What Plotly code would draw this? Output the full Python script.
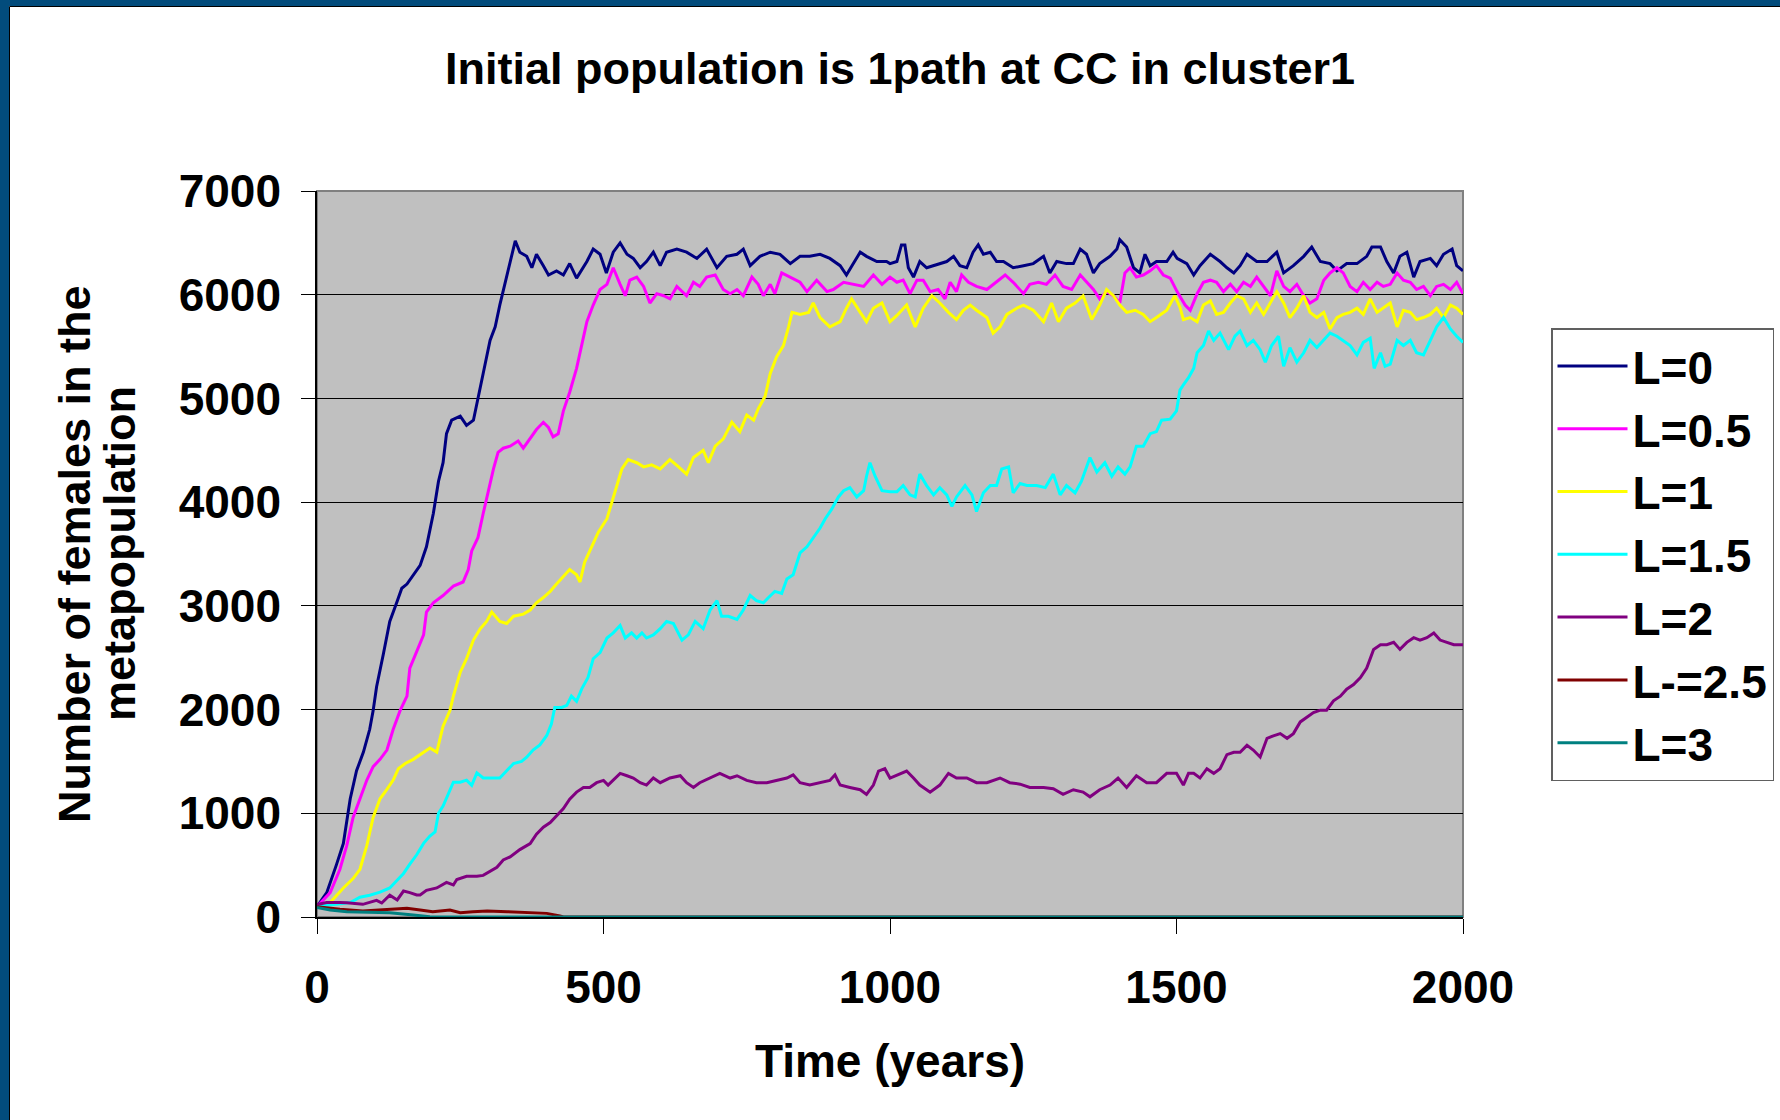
import plotly.graph_objects as go

# ---------------- data (year, females) ----------------
SERIES_NAMES = ["L=0", "L=0.5", "L=1", "L=1.5", "L=2", "L-=2.5", "L=3"]
SERIES_COLORS = ["#000080", "#FF00FF", "#FFFF00", "#00FFFF", "#800080", "#800000", "#008080"]

L0 = [(0,100),(17,235),(34,505),(46,710),(58,1140),(69,1410),(81,1590),(92,1810),(98,1990),(104,2220),
      (116,2540),(127,2850),(139,3030),(148,3170),(157,3210),(168,3300),(180,3390),(191,3570),(203,3890),
      (212,4200),(220,4380),(226,4660),(235,4790),(250,4830),(261,4740),(273,4790),(281,4990),(290,5240),
      (302,5560),(311,5690),(319,5900),(328,6100),(337,6320),(343,6460),(346,6520),(354,6410),(366,6370),
      (375,6260),(383,6390),(395,6280),(404,6190),(418,6230),(430,6190),(441,6300),(453,6160),(471,6320),
      (482,6440),(494,6390),(505,6210),(517,6410),(529,6500),(541,6390),(552,6350),(564,6260),(575,6320),
      (587,6410),(599,6280),(610,6410),(628,6440),(645,6410),(663,6350),(680,6440),(698,6260),(715,6370),
      (733,6390),(744,6440),(756,6280),(773,6370),(791,6410),(808,6390),(826,6300),(843,6370),(860,6370),
      (878,6390),(895,6350),(913,6280),(924,6190),(936,6300),(948,6410),(959,6370),(977,6320),(994,6320),
      (1000,6300),(1012,6320),(1020,6480),(1026,6480),(1032,6260),(1041,6170),(1052,6320),(1064,6260),
      (1076,6280),(1087,6300),(1099,6320),(1111,6370),(1122,6280),(1134,6260),(1145,6410),(1154,6480),
      (1163,6390),(1175,6410),(1186,6320),(1198,6320),(1215,6260),(1233,6280),(1250,6300),(1268,6370),
      (1279,6210),(1291,6320),(1308,6300),(1320,6300),(1332,6440),(1343,6390),(1355,6210),(1366,6300),
      (1384,6370),(1396,6440),(1401,6530),(1413,6460),(1425,6260),(1436,6210),(1445,6390),(1454,6280),
      (1465,6320),(1483,6320),(1494,6410),(1501,6350),(1518,6300),(1530,6190),(1541,6280),(1559,6390),
      (1576,6320),(1588,6260),(1600,6210),(1611,6280),(1623,6390),(1640,6320),(1658,6320),(1675,6410),
      (1687,6210),(1704,6280),(1722,6370),(1736,6460),(1751,6320),(1768,6300),(1780,6230),(1797,6300),
      (1815,6300),(1832,6370),(1841,6460),(1856,6460),(1867,6320),(1879,6210),(1890,6370),(1902,6410),
      (1914,6170),(1925,6320),(1943,6350),(1954,6280),(1966,6390),(1981,6440),(1989,6280),(2000,6230)]

L05 = [(0,100),(23,235),(40,460),(52,690),(63,960),(75,1140),(87,1320),(98,1450),(110,1520),(122,1610),
       (133,1810),(145,1990),(157,2130),(162,2400),(174,2560),(186,2720),(191,2940),(203,3030),(220,3100),
       (238,3190),(255,3230),(264,3350),(270,3530),(281,3660),(290,3890),(299,4110),(308,4320),(316,4480),
       (325,4520),(337,4540),(351,4590),(360,4520),(372,4610),(383,4700),(395,4770),(404,4720),(412,4630),
       (421,4660),(430,4880),(441,5060),(453,5290),(462,5510),(471,5740),(482,5900),(494,6050),(506,6100),
       (517,6260),(529,6100),(538,5990),(546,6140),(558,6170),(570,6080),(581,5920),(593,6010),(605,5990),
       (616,5960),(628,6080),(645,5990),(657,6120),(668,6080),(680,6170),(695,6190),(709,6050),(721,6010),
       (733,6050),(744,5990),(759,6170),(770,6100),(779,5990),(791,6100),(799,6010),(811,6210),(826,6170),
       (843,6120),(855,6030),(872,6140),(890,6030),(901,6050),(919,6120),(936,6100),(954,6080),(971,6190),
       (986,6100),(1000,6170),(1012,6120),(1023,6140),(1035,6010),(1047,6140),(1058,6140),(1070,6030),
       (1084,6050),(1096,5960),(1105,6120),(1116,6030),(1125,6190),(1137,6120),(1151,6080),(1169,6050),
       (1186,6120),(1201,6190),(1215,6120),(1233,6010),(1244,6100),(1259,6120),(1273,6100),(1288,6190),
       (1302,6080),(1317,6050),(1332,6190),(1343,6120),(1355,6050),(1366,5960),(1378,6030),(1390,5990),
       (1401,5920),(1410,6210),(1419,6260),(1430,6170),(1442,6190),(1454,6230),(1465,6280),(1477,6190),
       (1489,6160),(1501,6030),(1515,5900),(1524,5850),(1536,6010),(1547,6120),(1559,6140),(1570,6120),
       (1582,6030),(1594,6100),(1605,6030),(1617,6120),(1629,6080),(1640,6170),(1652,6080),(1664,5990),
       (1675,6230),(1687,6080),(1698,6030),(1710,6100),(1722,5990),(1733,5920),(1745,5960),(1757,6140),
       (1768,6210),(1780,6260),(1791,6210),(1803,6080),(1815,6030),(1826,6120),(1838,6050),(1850,6120),
       (1861,6080),(1873,6100),(1885,6210),(1896,6140),(1908,6120),(1919,6050),(1931,6080),(1943,5990),
       (1954,6080),(1966,6100),(1978,6050),(1989,6120),(2000,6010)]

L1 = [(0,100),(23,140),(46,280),(63,370),(75,460),(87,690),(98,960),(110,1140),(122,1230),(133,1320),
      (142,1430),(154,1480),(168,1520),(186,1590),(197,1630),(209,1590),(220,1840),(232,1990),(238,2130),
      (250,2360),(261,2490),(273,2670),(285,2780),(296,2850),(305,2940),(319,2850),(331,2830),(343,2900),
      (360,2920),(372,2960),(383,3030),(395,3080),(407,3140),(418,3210),(430,3280),(441,3350),(453,3300),
      (459,3230),(467,3420),(479,3570),(491,3710),(506,3840),(520,4110),(532,4320),(543,4410),(558,4380),
      (570,4340),(584,4360),(599,4320),(616,4410),(631,4340),(645,4270),(657,4430),(674,4500),(683,4380),
      (695,4540),(709,4610),(724,4770),(738,4680),(750,4840),(762,4790),(770,4900),(782,5020),(791,5240),
      (802,5400),(814,5510),(823,5690),(829,5830),(843,5810),(858,5830),(866,5920),(878,5780),(895,5690),
      (913,5740),(924,5870),(933,5960),(948,5830),(959,5740),(971,5870),(986,5920),(1000,5740),(1012,5800),
      (1029,5900),(1044,5690),(1058,5870),(1073,5990),(1087,5920),(1102,5830),(1116,5760),(1128,5850),
      (1140,5900),(1151,5850),(1169,5780),(1180,5630),(1192,5690),(1204,5810),(1221,5870),(1233,5900),
      (1250,5850),(1268,5740),(1282,5920),(1294,5740),(1308,5870),(1323,5920),(1337,5990),(1352,5760),
      (1366,5900),(1378,6050),(1390,5990),(1401,5900),(1413,5830),(1428,5850),(1442,5810),(1454,5740),
      (1465,5780),(1483,5850),(1497,5990),(1506,5880),(1512,5760),(1524,5780),(1536,5740),(1547,5900),
      (1559,5940),(1570,5810),(1582,5830),(1594,5920),(1605,5990),(1617,5960),(1629,5830),(1640,5920),
      (1652,5810),(1664,5920),(1675,6030),(1687,5920),(1698,5780),(1710,5870),(1722,5990),(1733,5830),
      (1745,5780),(1757,5830),(1768,5670),(1780,5780),(1791,5810),(1803,5830),(1815,5870),(1826,5810),
      (1838,5960),(1850,5830),(1861,5870),(1873,5920),(1885,5690),(1896,5850),(1908,5830),(1919,5760),
      (1931,5780),(1943,5810),(1954,5870),(1966,5780),(1978,5900),(1989,5870),(2000,5810)]

L15 = [(0,100),(34,120),(58,140),(75,190),(92,210),(110,240),(127,280),(139,350),(151,420),(162,510),
       (174,600),(186,710),(197,780),(206,820),(212,1000),(220,1070),(229,1180),(238,1300),(250,1300),
       (261,1320),(270,1270),(279,1390),(290,1340),(305,1340),(319,1340),(331,1410),(343,1480),(357,1500),
       (366,1540),(377,1610),(389,1660),(401,1750),(409,1860),(415,2020),(427,2020),(436,2040),(444,2130),
       (453,2080),(462,2200),(473,2310),(482,2490),(494,2550),(506,2690),(517,2740),(529,2810),(538,2690),
       (549,2740),(558,2690),(567,2740),(575,2690),(587,2720),(599,2780),(610,2850),(622,2830),(637,2670),
       (648,2720),(660,2850),(674,2780),(686,2960),(698,3050),(706,2900),(718,2900),(733,2870),(744,2960),
       (756,3100),(767,3050),(779,3030),(788,3080),(799,3140),(811,3120),(820,3260),(831,3300),(843,3510),
       (855,3570),(866,3660),(878,3750),(887,3840),(898,3930),(910,4050),(919,4110),(930,4140),(942,4050),
       (954,4110),(959,4250),(965,4380),(974,4250),(986,4110),(1000,4100),(1012,4100),(1023,4160),
       (1035,4070),(1044,4050),(1052,4270),(1064,4160),(1076,4070),(1087,4140),(1099,4070),(1108,3960),
       (1116,4050),(1131,4160),(1143,4070),(1151,3910),(1163,4090),(1175,4160),(1186,4160),(1195,4320),
       (1207,4340),(1215,4090),(1227,4180),(1239,4160),(1256,4160),(1271,4140),(1285,4270),(1297,4070),
       (1308,4160),(1323,4090),(1334,4200),(1349,4430),(1361,4290),(1375,4380),(1387,4250),(1398,4340),
       (1410,4270),(1419,4340),(1430,4540),(1442,4540),(1454,4660),(1465,4680),(1474,4790),(1489,4800),
       (1500,4880),(1506,5080),(1512,5130),(1521,5200),(1530,5290),(1536,5440),(1547,5510),(1556,5650),
       (1565,5560),(1576,5630),(1591,5470),(1602,5600),(1611,5650),(1623,5510),(1634,5560),(1646,5470),
       (1655,5350),(1666,5510),(1678,5600),(1687,5310),(1698,5490),(1710,5350),(1722,5440),(1733,5560),
       (1745,5490),(1757,5560),(1768,5630),(1780,5600),(1791,5560),(1803,5510),(1815,5420),(1826,5540),
       (1838,5580),(1845,5290),(1856,5440),(1864,5310),(1873,5330),(1885,5560),(1896,5510),(1908,5560),
       (1919,5440),(1931,5420),(1943,5560),(1954,5690),(1966,5780),(1978,5670),(1989,5600),(2000,5540)]

L2 = [(0,120),(17,140),(40,140),(52,138),(80,122),(104,160),(113,135),(127,210),(140,164),(151,250),
      (162,235),(174,212),(180,212),(191,257),(209,280),(226,334),(238,309),(244,361),(261,392),(279,392),
      (290,401),(302,438),(314,480),(325,550),(337,580),(354,650),(372,708),(383,798),(395,866),(407,911),
      (418,979),(430,1046),(441,1137),(453,1204),(465,1249),(476,1249),(488,1295),(500,1317),(508,1272),
      (517,1317),(529,1385),(541,1362),(552,1340),(564,1295),(575,1272),(587,1340),(599,1295),(616,1340),
      (634,1362),(645,1295),(657,1249),(668,1295),(686,1340),(703,1385),(721,1340),(733,1362),(750,1317),
      (767,1295),(785,1295),(802,1317),(820,1340),(831,1371),(843,1295),(860,1272),(878,1295),(895,1317),
      (904,1371),(913,1272),(930,1249),(948,1227),(959,1182),(971,1272),(980,1407),(991,1430),(1000,1340),
      (1012,1371),(1029,1407),(1041,1340),(1052,1272),(1070,1204),(1087,1272),(1102,1385),(1116,1340),
      (1134,1340),(1151,1295),(1169,1295),(1192,1340),(1209,1295),(1227,1281),(1244,1249),(1268,1249),
      (1285,1236),(1302,1182),(1320,1227),(1337,1204),(1349,1159),(1366,1227),(1384,1272),(1398,1340),
      (1413,1249),(1430,1362),(1448,1295),(1465,1295),(1483,1385),(1500,1385),(1512,1272),(1521,1385),
      (1530,1385),(1541,1340),(1553,1430),(1565,1385),(1576,1430),(1588,1565),(1600,1588),(1611,1588),
      (1623,1655),(1634,1610),(1646,1543),(1658,1723),(1669,1746),(1681,1768),(1693,1723),(1704,1768),
      (1716,1881),(1728,1926),(1739,1971),(1751,1994),(1762,1994),(1774,2084),(1786,2129),(1797,2197),
      (1809,2242),(1821,2309),(1832,2400),(1844,2580),(1856,2625),(1867,2625),(1879,2648),(1890,2580),
      (1902,2648),(1914,2693),(1925,2670),(1937,2693),(1949,2738),(1960,2670),(1972,2648),(1984,2625),
      (1995,2625),(2000,2625)]

L25 = [(0,100),(40,74),(80,58),(122,74),(157,84),(180,68),(202,51),(232,68),(250,42),(272,51),(297,58),
       (332,51),(366,45),(401,35),(424,10),(430,0),(2000,0)]

L3 = [(0,93),(23,68),(52,51),(87,45),(127,42),(168,19),(197,3),(227,0),(2000,0)]

ALL_SERIES = [L0, L05, L1, L15, L2, L25, L3]

X_TICKS = [0, 500, 1000, 1500, 2000]
Y_TICKS = [0, 1000, 2000, 3000, 4000, 5000, 6000, 7000]

# ---------------- layout geometry (pixels of the 1780x1120 page) ----------------
W, H = 1780, 1120
PL, PR, PT, PB = 317, 1463, 191, 917          # plot area edges
PW, PH = PR - PL, PB - PT


def px(x):
    return (x - PL) / PW


def py(y):
    return (PB - y) / PH


FONT = "Liberation Sans, Arial, Helvetica, sans-serif"

fig = go.Figure()
for name, color, data in zip(SERIES_NAMES, SERIES_COLORS, ALL_SERIES):
    xs = [p[0] for p in data]
    ys = [p[1] for p in data]
    fig.add_trace(go.Scatter(x=xs, y=ys, mode="lines", name=name,
                             line=dict(color=color, width=3)))

BORDER_BLUE = "#024C7C"
shapes = [
    # grey plot frame
    dict(type="rect", xref="paper", yref="paper", x0=0, x1=1, y0=0, y1=1,
         line=dict(color="#808080", width=2), layer="below"),
    # dark blue slide border (left and top)
    dict(type="rect", xref="paper", yref="paper", x0=px(0), x1=px(9), y0=py(H), y1=py(0),
         line=dict(width=0), fillcolor=BORDER_BLUE, layer="above"),
    dict(type="rect", xref="paper", yref="paper", x0=px(0), x1=px(W), y0=py(6), y1=py(0),
         line=dict(width=0), fillcolor=BORDER_BLUE, layer="above"),
    dict(type="line", xref="paper", yref="paper", x0=px(9.5), x1=px(9.5), y0=py(H), y1=py(6.5),
         line=dict(color="black", width=1), layer="above"),
    dict(type="line", xref="paper", yref="paper", x0=px(9.5), x1=px(W), y0=py(6.5), y1=py(6.5),
         line=dict(color="black", width=1), layer="above"),
]

annotations = [
    dict(text="Number of females in the", xref="paper", yref="paper", x=px(74), y=0.5,
         textangle=-90, showarrow=False, xanchor="center", yanchor="middle",
         font=dict(family=FONT, size=45, color="black", weight="bold")),
    dict(text="metapopulation", xref="paper", yref="paper", x=px(119), y=0.5,
         textangle=-90, showarrow=False, xanchor="center", yanchor="middle",
         font=dict(family=FONT, size=45, color="black", weight="bold")),
]

fig.update_layout(
    width=W, height=H,
    margin=dict(l=PL, r=W - PR, t=PT, b=H - PB, pad=0, autoexpand=False),
    paper_bgcolor="white", plot_bgcolor="#C0C0C0",
    title=dict(text="Initial population is 1path at CC in cluster1",
               x=900 / W, xref="container", xanchor="center",
               y=1 - 68 / H, yref="container", yanchor="middle",
               font=dict(family=FONT, size=45, color="black", weight="bold")),
    showlegend=True,
    legend=dict(x=px(1551), y=py(328), xanchor="left", yanchor="top",
                bgcolor="white", bordercolor="#606060", borderwidth=1.5,
                font=dict(family=FONT, size=46, color="black", weight="bold"),
                itemwidth=70, tracegroupgap=0),
    shapes=shapes,
    annotations=annotations,
)

fig.update_xaxes(range=[0, 2000], tickvals=X_TICKS, ticktext=[str(v) for v in X_TICKS],
                 ticks="outside", ticklen=15, tickwidth=1, tickcolor="black",
                 ticklabelstandoff=14,
                 showline=True, linecolor="black", linewidth=1.5, showgrid=False, zeroline=False,
                 tickfont=dict(family=FONT, size=46, color="black", weight="bold"),
                 title=dict(text="Time (years)", standoff=33,
                            font=dict(family=FONT, size=46, color="black", weight="bold")))

fig.update_yaxes(range=[0, 7000], tickvals=Y_TICKS, ticktext=[str(v) for v in Y_TICKS],
                 ticks="outside", ticklen=14, tickwidth=1, tickcolor="black",
                 ticklabelstandoff=11,
                 showline=True, linecolor="black", linewidth=1.5,
                 showgrid=True, gridcolor="black", gridwidth=1, zeroline=False,
                 tickfont=dict(family=FONT, size=46, color="black", weight="bold"))

fig.write_html("out.html", config={"displayModeBar": False},
               post_script="document.body.style.margin='0px';")
